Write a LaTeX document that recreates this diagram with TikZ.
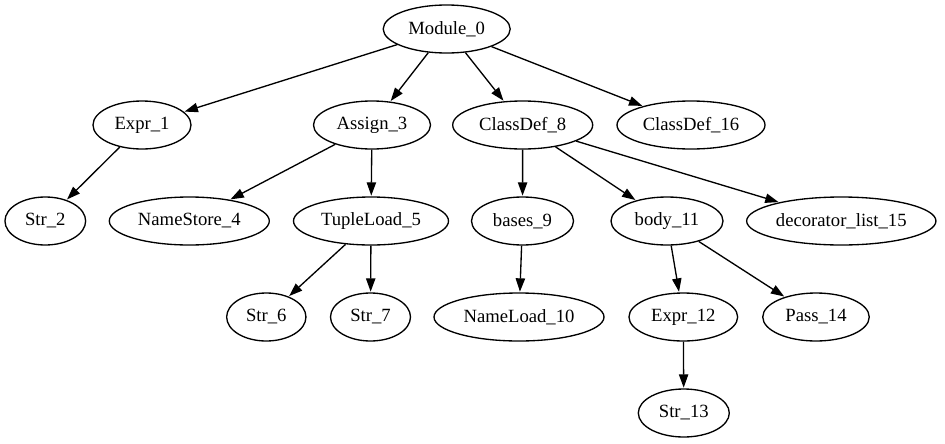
\documentclass[tikz,border=0pt]{standalone}
\usepackage{fontspec}
\setmainfont{Liberation Serif}
\usetikzlibrary{arrows.meta,shapes.geometric}
\tikzset{
  gvnode/.style={draw=black, line width=1pt, ellipse, minimum height=36pt, inner sep=0pt,
    font=\fontsize{14}{16}\selectfont},
  gvedge/.style={draw=black, line width=1pt, -{Triangle[length=10pt,width=7pt]}, shorten >=0.5pt}
}
\begin{document}
\begin{tikzpicture}[x=0.75pt, y=-0.75pt]
\useasboundingbox (0,0) rectangle (945,443);
% rank 0
\node[gvnode, minimum width=127*0.75pt] (m0) at (446.7,29) {Module\_0};
% rank 1
\node[gvnode, minimum width=98*0.75pt] (e1) at (142,125) {Expr\_1};
\node[gvnode, minimum width=117*0.75pt] (a3) at (372,125) {Assign\_3};
\node[gvnode, minimum width=140*0.75pt] (c8) at (522.7,125) {ClassDef\_8};
\node[gvnode, minimum width=148*0.75pt] (c16) at (691,125) {ClassDef\_16};
% rank 2
\node[gvnode, minimum width=80.7*0.75pt] (s2) at (45.3,221) {Str\_2};
\node[gvnode, minimum width=160*0.75pt] (n4) at (189.3,221) {NameStore\_4};
\node[gvnode, minimum width=155*0.75pt] (t5) at (371,221) {TupleLoad\_5};
\node[gvnode, minimum width=102*0.75pt] (b9) at (522.5,221) {bases\_9};
\node[gvnode, minimum width=112*0.75pt] (b11) at (667,221) {body\_11};
\node[gvnode, minimum width=189.3*0.75pt] (d15) at (841.3,221) {decorator\_list\_15};
% rank 3
\node[gvnode, minimum width=79.3*0.75pt] (s6) at (266.3,317) {Str\_6};
\node[gvnode, minimum width=80*0.75pt] (s7) at (370.5,317) {Str\_7};
\node[gvnode, minimum width=170*0.75pt] (n10) at (519,317) {NameLoad\_10};
\node[gvnode, minimum width=108.7*0.75pt] (e12) at (683.3,317) {Expr\_12};
\node[gvnode, minimum width=106.5*0.75pt] (p14) at (816,317) {Pass\_14};
% rank 4
\node[gvnode, minimum width=91*0.75pt] (s13) at (683.8,413) {Str\_13};
% edges
\draw[gvedge] (m0) -- (e1);
\draw[gvedge] (m0) -- (a3);
\draw[gvedge] (m0) -- (c8);
\draw[gvedge] (m0) -- (c16);
\draw[gvedge] (e1) -- (s2);
\draw[gvedge] (a3) -- (n4);
\draw[gvedge] (a3) -- (t5);
\draw[gvedge] (t5) -- (s6);
\draw[gvedge] (t5) -- (s7);
\draw[gvedge] (c8) -- (b9);
\draw[gvedge] (c8) -- (b11);
\draw[gvedge] (c8) -- (d15);
\draw[gvedge] (b9) -- (n10);
\draw[gvedge] (b11) -- (e12);
\draw[gvedge] (b11) -- (p14);
\draw[gvedge] (e12) -- (s13);
\end{tikzpicture}
\end{document}
